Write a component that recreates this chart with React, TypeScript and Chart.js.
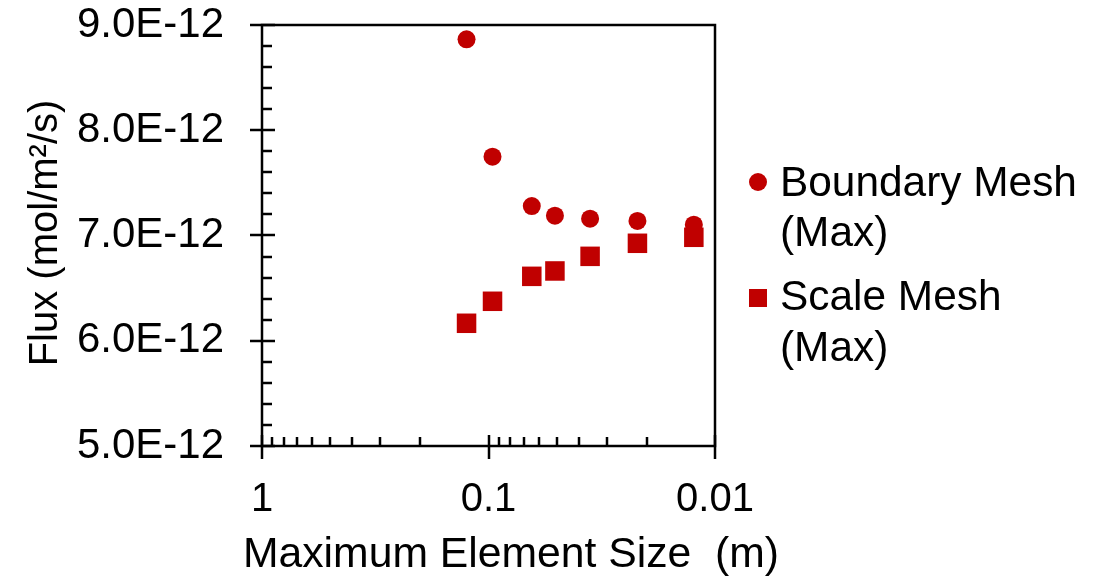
import React, { useEffect, useRef } from "react";
import { Chart, registerables } from "chart.js";

Chart.register(...registerables);

// ---- data ----
const ELEMENT_SIZE = [0.125, 0.096, 0.0644, 0.0509, 0.0356, 0.022, 0.0124];
const BOUNDARY_FLUX = [8.864e-12, 7.749e-12, 7.28e-12, 7.188e-12, 7.16e-12, 7.138e-12, 7.103e-12];
const SCALE_FLUX = [6.166e-12, 6.375e-12, 6.612e-12, 6.663e-12, 6.802e-12, 6.926e-12, 6.983e-12];
const SERIES_LABELS = [["Boundary Mesh", "(Max)"], ["Scale Mesh", "(Max)"]];
const X_TICKS = [1, 0.1, 0.01];
const X_MINOR_TICKS = [0.9, 0.8, 0.7, 0.6, 0.5, 0.4, 0.3, 0.2, 0.09, 0.08, 0.07, 0.06, 0.05, 0.04, 0.03, 0.02];
const Y_TICKS = [5e-12, 6e-12, 7e-12, 8e-12, 9e-12];
const Y_MINOR_TICKS = [
  5.2e-12, 5.4e-12, 5.6e-12, 5.8e-12, 6.2e-12, 6.4e-12, 6.6e-12, 6.8e-12,
  7.2e-12, 7.4e-12, 7.6e-12, 7.8e-12, 8.2e-12, 8.4e-12, 8.6e-12, 8.8e-12,
];
const X_TITLE = "Maximum Element Size  (m)";
const Y_TITLE = "Flux (mol/m\u00B2/s)";

const RED = "#C00000";
const FONT_FAMILY = "'Liberation Sans', Arial, sans-serif";

const decorPlugin = {
  id: "decor",
  afterDraw(chart: any) {
    const ctx = chart.ctx as CanvasRenderingContext2D;
    const { left, right, top, bottom } = chart.chartArea;
    const xs = chart.scales.x;
    const ys = chart.scales.y;
    ctx.save();
    ctx.strokeStyle = "#000";
    ctx.lineWidth = 2.5;
    ctx.strokeRect(left, top, right - left, bottom - top);
    ctx.beginPath();
    for (const v of Y_TICKS) {
      const y = Math.round(ys.getPixelForValue(v));
      ctx.moveTo(left - 12, y);
      ctx.lineTo(left + 13, y);
    }
    for (const v of Y_MINOR_TICKS) {
      const y = Math.round(ys.getPixelForValue(v));
      ctx.moveTo(left, y);
      ctx.lineTo(left + 10, y);
    }
    for (const v of X_TICKS) {
      const x = Math.round(xs.getPixelForValue(v));
      ctx.moveTo(x, bottom - 11);
      ctx.lineTo(x, bottom + 13);
    }
    for (const v of X_MINOR_TICKS) {
      const x = Math.round(xs.getPixelForValue(v));
      ctx.moveTo(x, bottom - 9);
      ctx.lineTo(x, bottom);
    }
    ctx.stroke();

    // axis titles
    ctx.fillStyle = "#000";
    ctx.textBaseline = "alphabetic";
    ctx.textAlign = "center";
    ctx.font = `42.7px ${FONT_FAMILY}`;
    ctx.fillText(X_TITLE, 511, 567);
    ctx.save();
    ctx.font = `40px ${FONT_FAMILY}`;
    ctx.translate(57, 233);
    ctx.rotate(-Math.PI / 2);
    ctx.fillText(Y_TITLE, 0, 0);
    ctx.restore();

    // legend
    ctx.font = `42.4px ${FONT_FAMILY}`;
    ctx.textAlign = "left";
    const baselines = [[196, 246], [310, 361]];
    const markerY = [182, 298];
    SERIES_LABELS.forEach((lines, i) => {
      ctx.fillStyle = RED;
      if (i === 0) {
        ctx.beginPath();
        ctx.arc(758, markerY[i], 9, 0, Math.PI * 2);
        ctx.fill();
      } else {
        ctx.fillRect(749, markerY[i] - 9, 18, 18);
      }
      ctx.fillStyle = "#000";
      lines.forEach((t, j) => ctx.fillText(t, 780, baselines[i][j]));
    });
    ctx.restore();
  },
};

export default function App() {
  const ref = useRef<HTMLCanvasElement | null>(null);
  useEffect(() => {
    if (!ref.current) return;
    const toPoints = (ys: number[]) => ELEMENT_SIZE.map((x, i) => ({ x, y: ys[i] }));
    const chart = new Chart(ref.current, {
      type: "scatter",
      data: {
        datasets: [
          {
            label: SERIES_LABELS[0].join(" "),
            data: toPoints(BOUNDARY_FLUX),
            pointStyle: "circle",
            pointRadius: 9,
            pointHoverRadius: 9,
            backgroundColor: RED,
            borderColor: RED,
            borderWidth: 0,
            order: 2,
          },
          {
            label: SERIES_LABELS[1].join(" "),
            data: toPoints(SCALE_FLUX),
            pointStyle: "rect",
            pointRadius: 13.8,
            pointHoverRadius: 13.8,
            backgroundColor: RED,
            borderColor: RED,
            borderWidth: 0,
            order: 1,
          },
        ],
      },
      options: {
        animation: false,
        responsive: false,
        layout: { padding: { left: 0, top: 25, right: 1107 - 715, bottom: 0 } },
        plugins: { legend: { display: false }, tooltip: { enabled: false } },
        scales: {
          x: {
            type: "logarithmic",
            reverse: true,
            min: 0.01,
            max: 1,
            afterBuildTicks: (s: any) => {
              s.ticks = X_TICKS.map((v) => ({ value: v }));
            },
            afterFit: (s: any) => {
              s.height = 577 - 446;
              s.paddingLeft = 0;
              s.paddingRight = 0;
            },
            grid: { display: false, drawTicks: false },
            border: { display: false },
            ticks: {
              padding: 30,
              color: "#000",
              font: { family: FONT_FAMILY, size: 40 },
              maxRotation: 0,
              autoSkip: false,
              callback: (v: any) => String(v),
            },
          },
          y: {
            type: "linear",
            min: 5e-12,
            max: 9e-12,
            afterBuildTicks: (s: any) => {
              s.ticks = Y_TICKS.map((v) => ({ value: v }));
            },
            afterFit: (s: any) => {
              s.width = 262;
              s.paddingTop = 0;
              s.paddingBottom = 0;
            },
            grid: { display: false, drawTicks: false },
            border: { display: false },
            ticks: {
              padding: 38,
              color: "#000",
              font: { family: FONT_FAMILY, size: 42 },
              callback: (v: any) => Number(v).toExponential(1).toUpperCase(),
            },
          },
        },
      },
      plugins: [decorPlugin],
    });
    return () => chart.destroy();
  }, []);
  return (
    <div style={{ position: "absolute", left: 0, top: 0, width: 1107, height: 577, background: "#fff" }}>
      <canvas ref={ref} width={1107} height={577} />
    </div>
  );
}
